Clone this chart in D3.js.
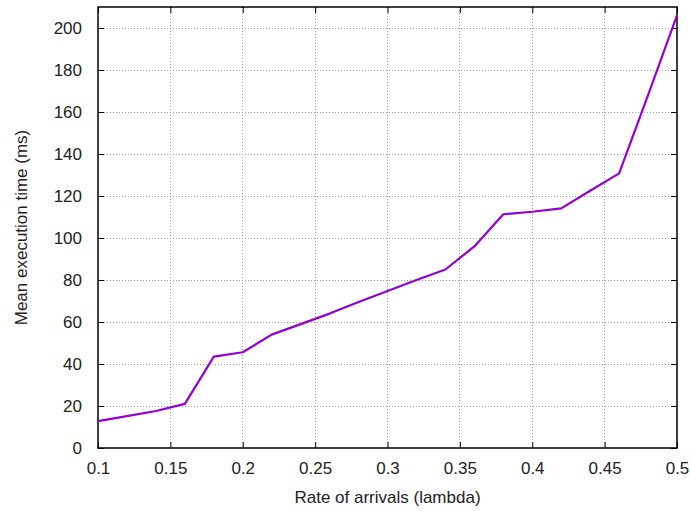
<!DOCTYPE html>
<html><head><meta charset="utf-8">
<script src="https://cdn.jsdelivr.net/npm/d3@7"></script>
<style>body{margin:0;background:#fff}svg{display:block;font-family:"Liberation Sans",Arial,sans-serif}</style>
</head><body>
<svg id="c" width="690" height="511"></svg>
<script>
const lambdas = [0.10,0.12,0.14,0.16,0.18,0.20,0.22,0.24,0.26,0.28,0.30,0.32,0.34,0.36,0.38,0.40,0.42,0.44,0.46,0.48,0.50];
const meanTimes = [12.8,15.2,17.6,21,43.5,45.6,54,59,64,69.5,74.8,80,85,96,111.3,112.5,114.1,122.5,130.8,168,206];
const xTicks = [0.1,0.15,0.2,0.25,0.3,0.35,0.4,0.45,0.5];
const yTicks = [0,20,40,60,80,100,120,140,160,180,200];
const xLabel = "Rate of arrivals (lambda)";
const yLabel = "Mean execution time (ms)";

const FS = 17;
const svg = d3.select("#c");
const L=98, R=677, T=7, B=448;
const x = d3.scaleLinear().domain([0.1,0.5]).range([L,R]);
const y = d3.scaleLinear().domain([0,210]).range([B,T]);

// grid
const g = svg.append("g");
g.selectAll(".gx").data(xTicks.slice(1,-1)).join("line")
  .attr("x1",d=>x(d)).attr("x2",d=>x(d)).attr("y1",T).attr("y2",B)
  .attr("stroke","#a0a0a0").attr("stroke-width",1).attr("stroke-dasharray","1,2")
  .attr("shape-rendering","crispEdges");
g.selectAll(".gy").data(yTicks.slice(1)).join("line")
  .attr("x1",L).attr("x2",R).attr("y1",d=>y(d)).attr("y2",d=>y(d))
  .attr("stroke","#a0a0a0").attr("stroke-width",1).attr("stroke-dasharray","1,2")
  .attr("shape-rendering","crispEdges");

// axes (inward ticks, mirrored)
const tk = 6;
const fmt = d=>String(+d.toFixed(2));
const styleText = a=>a.selectAll("text").attr("font-size",FS).attr("fill","#222").attr("font-family","Liberation Sans, Arial, sans-serif");
svg.append("g").attr("transform",`translate(0,${B})`)
  .call(d3.axisBottom(x).tickValues(xTicks).tickFormat(fmt).tickSizeInner(-tk).tickSizeOuter(0).tickPadding(14))
  .call(a=>{a.select(".domain").remove();styleText(a);a.selectAll("line").attr("stroke","#000");});
svg.append("g").attr("transform",`translate(0,${T})`)
  .call(d3.axisTop(x).tickValues(xTicks).tickFormat("").tickSizeInner(-tk).tickSizeOuter(0))
  .call(a=>{a.select(".domain").remove();a.selectAll("line").attr("stroke","#000");});
svg.append("g").attr("transform",`translate(${L},0)`)
  .call(d3.axisLeft(y).tickValues(yTicks).tickSizeInner(-tk).tickSizeOuter(0).tickPadding(16))
  .call(a=>{a.select(".domain").remove();styleText(a);a.selectAll("line").attr("stroke","#000");});
svg.append("g").attr("transform",`translate(${R},0)`)
  .call(d3.axisRight(y).tickValues(yTicks).tickFormat("").tickSizeInner(-tk).tickSizeOuter(0))
  .call(a=>{a.select(".domain").remove();a.selectAll("line").attr("stroke","#000");});

// frame
svg.append("rect").attr("x",L).attr("y",T).attr("width",R-L).attr("height",B-T)
  .attr("fill","none").attr("stroke","#000").attr("stroke-width",1.5);

// line
svg.append("path").datum(lambdas.map((l,i)=>[l,meanTimes[i]]))
  .attr("d",d3.line().x(d=>x(d[0])).y(d=>y(d[1])))
  .attr("fill","none").attr("stroke","#9400d3").attr("stroke-width",2.2).attr("stroke-linejoin","round");

// labels
svg.append("text").attr("x",(L+R)/2).attr("y",503).attr("text-anchor","middle")
  .attr("font-size",FS).attr("fill","#222").text(xLabel);
svg.append("text").attr("transform",`translate(27,${(T+B)/2}) rotate(-90)`).attr("text-anchor","middle")
  .attr("font-size",FS).attr("fill","#222").text(yLabel);
</script>
</body></html>
